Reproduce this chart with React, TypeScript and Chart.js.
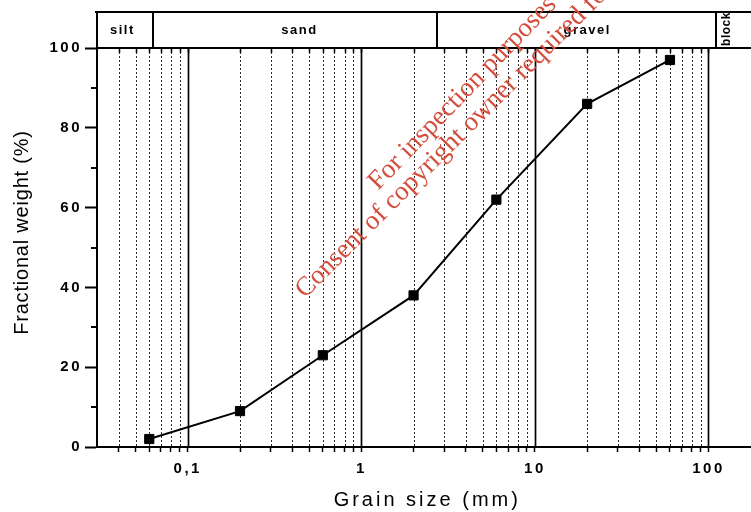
import React, { useEffect, useRef } from 'react';
import { Chart, registerables } from 'chart.js';

Chart.register(...registerables);

// Sieve analysis: cumulative fractional weight vs. grain size
const grainSize = [0.06, 0.2, 0.6, 2, 6, 20, 60];
const fractionalWeight = [2, 9, 23, 38, 62, 86, 97];

// Axis ranges and labels
const xMin = 0.03;
const xMax = 177;
const majorTicks = [0.1, 1, 10, 100];
const majorLabels = ['0,1', '1', '10', '100'];
const decades = [0.01, 0.1, 1, 10, 100];
const multipliers = [1, 2, 3, 4, 5, 6, 7, 8, 9];
const yMajorStep = 20;
const yMinorTicks = [10, 30, 50, 70, 90];

// Grain classes shown in the header strip
const classNames = ['silt', 'sand', 'gravel', 'block'];
const classEdges = [0.03, 0.063, 2.72, 110, 177];
const classLabelAt = [0.042, 0.44, 20, 128];

const xTitle = 'Grain size (mm)';
const yTitle = 'Fractional weight (%)';
const notice = [
  'For inspection purposes only.',
  'Consent of copyright owner required for any other use.',
];

const WIDTH = 751;
const HEIGHT = 512;

const gridValues: number[] = [];
decades.forEach((d) =>
  multipliers.forEach((m) => {
    const v = +(d * m).toPrecision(6);
    if (v > xMin * 1.001 && v <= xMax) gridValues.push(v);
  })
);
const isMajor = (v: number) => majorTicks.some((m) => Math.abs(m - v) < 1e-9);

const decor = {
  id: 'decor',
  beforeDraw(chart: any) {
    chart.ctx.letterSpacing = '2.5px';
  },
  beforeDatasetsDraw(chart: any) {
    const { ctx, chartArea: a } = chart;
    const x = chart.scales.x;
    ctx.save();
    ctx.letterSpacing = '0px';
    for (const v of gridValues) {
      const px = Math.round(x.getPixelForValue(v)) + 0.5;
      const major = isMajor(v);
      ctx.beginPath();
      ctx.strokeStyle = major ? '#000' : '#2e2e2e';
      ctx.lineWidth = major ? 1.7 : 1;
      ctx.setLineDash(major ? [] : [2, 2]);
      ctx.moveTo(px, a.top);
      ctx.lineTo(px, a.bottom);
      ctx.stroke();
    }
    ctx.restore();
  },
  afterDraw(chart: any) {
    const { ctx, chartArea: a } = chart;
    const x = chart.scales.x;
    const y = chart.scales.y;
    ctx.save();
    ctx.letterSpacing = '0px';
    ctx.strokeStyle = '#000';
    ctx.setLineDash([]);

    // minor ticks on the weight axis
    ctx.lineWidth = 2;
    ctx.beginPath();
    for (const v of yMinorTicks) {
      const py = Math.round(y.getPixelForValue(v));
      ctx.moveTo(a.left - 6, py);
      ctx.lineTo(a.left, py);
    }
    ctx.stroke();

    // header strip with grain classes
    const top = 12;
    const bot = a.top;
    ctx.lineWidth = 2;
    ctx.beginPath();
    ctx.moveTo(a.left - 2, top);
    ctx.lineTo(a.right, top);
    ctx.moveTo(a.left, top);
    ctx.lineTo(a.left, bot);
    ctx.moveTo(a.left - 1, bot);
    ctx.lineTo(a.right, bot);
    classEdges.slice(1, -1).forEach((v) => {
      const px = Math.round(x.getPixelForValue(v));
      ctx.moveTo(px, top);
      ctx.lineTo(px, bot);
    });
    ctx.stroke();

    // small ticks under the strip
    ctx.lineWidth = 1.5;
    ctx.beginPath();
    for (const v of gridValues) {
      const px = Math.round(x.getPixelForValue(v)) + 0.5;
      ctx.moveTo(px, bot);
      ctx.lineTo(px, bot + 5);
    }
    ctx.stroke();

    ctx.fillStyle = '#000';
    ctx.font = 'bold 13px "Liberation Sans", Arial, sans-serif';
    ctx.textAlign = 'center';
    ctx.textBaseline = 'middle';
    classNames.forEach((name, i) => {
      const cx = x.getPixelForValue(classLabelAt[i]);
      const cy = (top + bot) / 2;
      if (name === 'block') {
        ctx.save();
        ctx.letterSpacing = '0.5px';
        ctx.font = 'bold 12px "Liberation Sans", Arial, sans-serif';
        ctx.translate(cx, cy - 1);
        ctx.rotate(-Math.PI / 2);
        ctx.fillText(name, 0, 0);
        ctx.restore();
      } else {
        ctx.letterSpacing = '1.5px';
        ctx.fillText(name, cx, cy);
      }
    });

    // axis titles
    ctx.font = '20px "Liberation Sans", Arial, sans-serif';
    ctx.letterSpacing = '3px';
    ctx.fillText(xTitle, (a.left + a.right) / 2 + 3, 500);
    ctx.save();
    ctx.letterSpacing = '0.8px';
    ctx.translate(22, (a.top + a.bottom) / 2 - 15);
    ctx.rotate(-Math.PI / 2);
    ctx.fillText(yTitle, 0, 0);
    ctx.restore();

    // red notice printed across the figure
    ctx.save();
    ctx.letterSpacing = '0px';
    ctx.fillStyle = '#d44c3b';
    ctx.font = '27px "Liberation Serif", "Times New Roman", serif';
    ctx.textAlign = 'left';
    ctx.textBaseline = 'alphabetic';
    const ang = (-46 * Math.PI) / 180;
    ctx.save();
    ctx.translate(378, 191);
    ctx.rotate(ang);
    ctx.fillText(notice[0], 0, 0);
    ctx.restore();
    ctx.save();
    ctx.translate(305, 299);
    ctx.rotate((-45 * Math.PI) / 180);
    ctx.fillText(notice[1], 0, 0);
    ctx.restore();
    ctx.restore();

    ctx.restore();
  },
};

export default function App() {
  const ref = useRef<HTMLCanvasElement | null>(null);

  useEffect(() => {
    if (!ref.current) return;
    const tickFont = { family: '"Liberation Sans", Arial, sans-serif', size: 15, weight: 'bold' as const };
    const chart = new Chart(ref.current, {
      type: 'line',
      data: {
        datasets: [
          {
            data: grainSize.map((g, i) => ({ x: g, y: fractionalWeight[i] })),
            borderColor: '#000',
            borderWidth: 2,
            pointStyle: 'rect',
            pointRadius: 6.5,
            pointBackgroundColor: '#000',
            pointBorderColor: '#000',
            pointBorderWidth: 1,
            tension: 0,
          },
        ],
      },
      options: {
        animation: false,
        responsive: false,
        maintainAspectRatio: false,
        layout: { padding: { top: 48, left: 0, right: 0, bottom: 0 } },
        plugins: { legend: { display: false }, tooltip: { enabled: false } },
        scales: {
          x: {
            type: 'logarithmic',
            min: xMin,
            max: xMax,
            afterBuildTicks: (s: any) => {
              s.ticks = gridValues.map((v) => ({ value: v }));
            },
            afterFit: (s: any) => {
              s.height = 65;
              s.paddingLeft = 0;
              s.paddingRight = 0;
            },
            ticks: {
              autoSkip: false,
              maxRotation: 0,
              padding: 8,
              color: '#000',
              font: tickFont,
              callback: (v: any) => {
                const idx = majorTicks.findIndex((m) => Math.abs(m - Number(v)) < 1e-9);
                return idx >= 0 ? majorLabels[idx] : '';
              },
            },
            grid: {
              drawOnChartArea: false,
              drawTicks: true,
              tickLength: 5,
              tickWidth: 1.5,
              tickColor: '#000',
            },
            border: { display: true, color: '#000', width: 2 },
          },
          y: {
            type: 'linear',
            min: 0,
            max: 100,
            afterFit: (s: any) => {
              s.width = 97;
            },
            ticks: {
              stepSize: yMajorStep,
              padding: 3,
              color: '#000',
              font: tickFont,
            },
            grid: {
              drawOnChartArea: false,
              drawTicks: true,
              tickLength: 12,
              tickWidth: 2,
              tickColor: '#000',
            },
            border: { display: true, color: '#000', width: 2 },
          },
        },
      },
      plugins: [decor],
    });
    // the plot frame runs out to the right edge of the page
    const extra = Math.round(WIDTH - chart.chartArea.right);
    if (extra > 0) chart.resize(WIDTH + extra, HEIGHT);
    return () => chart.destroy();
  }, []);

  return (
    <div style={{ position: 'fixed', left: 0, top: 0, width: WIDTH, height: HEIGHT, overflow: 'hidden', background: '#fff' }}>
      <canvas ref={ref} width={WIDTH} height={HEIGHT} />
    </div>
  );
}
